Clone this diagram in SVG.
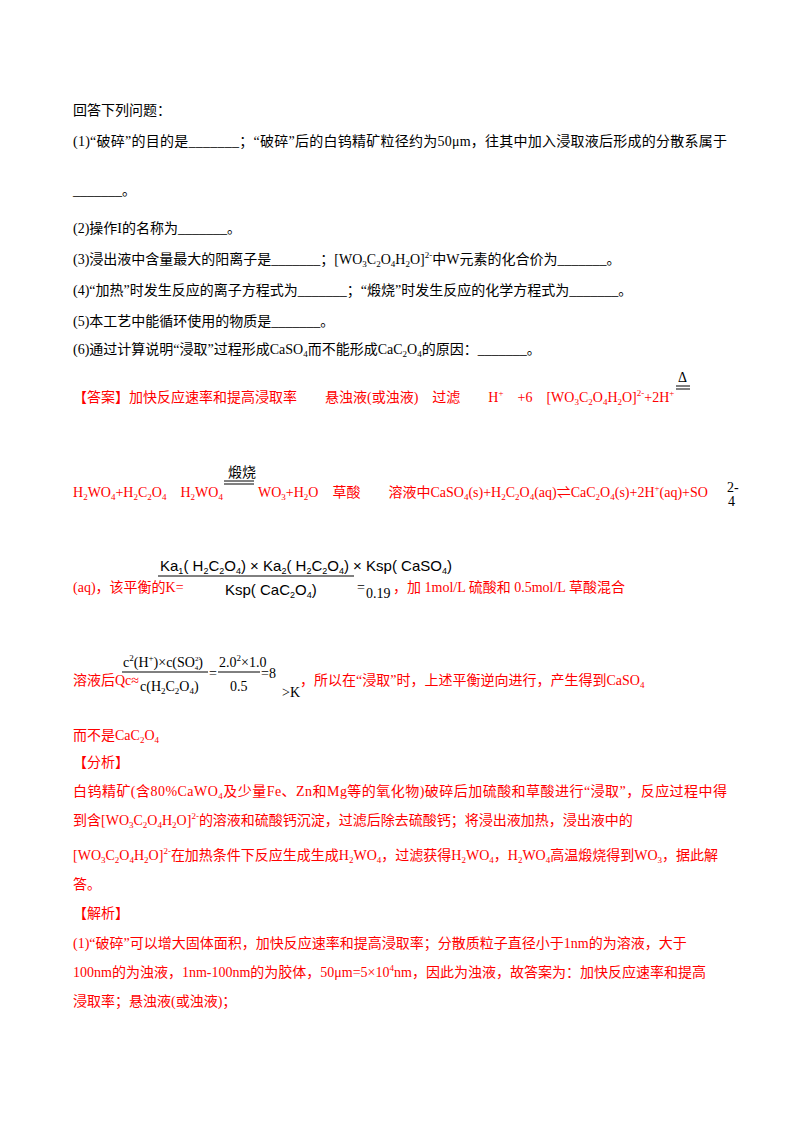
<svg xmlns="http://www.w3.org/2000/svg" width="800" height="1132" viewBox="0 0 800 1132">
<style>
text{font-family:"Liberation Serif","Noto Sans CJK SC",serif;font-size:14px;fill:#000}
.r{fill:#ff0000}
.s{font-size:9px;baseline-shift:-3px}
.p{font-size:9px;baseline-shift:6px}
.k{font-family:"Liberation Sans","Noto Sans CJK SC",sans-serif;font-size:15px;fill:#000}
.ks{font-family:"Liberation Sans",sans-serif;font-size:9px;baseline-shift:-3px}
</style>
<rect width="800" height="1132" fill="#fff"/>
<g id="questions">
<text x="73" y="115">回答下列问题：</text>
<text x="73" y="146" textLength="654" lengthAdjust="spacing">(1)“破碎”的目的是_______；“破碎”后的白钨精矿粒径约为50μm，往其中加入浸取液后形成的分散系属于</text>
<text x="73" y="195">_______。</text>
<text x="73" y="233">(2)操作I的名称为_______。</text>
<text x="73" y="264">(3)浸出液中含量最大的阳离子是_______；[WO<tspan class="s">3</tspan>C<tspan class="s">2</tspan>O<tspan class="s">4</tspan>H<tspan class="s">2</tspan>O]<tspan class="p">2-</tspan>中W元素的化合价为_______。</text>
<text x="73" y="295">(4)“加热”时发生反应的离子方程式为_______；“煅烧”时发生反应的化学方程式为_______。</text>
<text x="73" y="326">(5)本工艺中能循环使用的物质是_______。</text>
<text x="73" y="354">(6)通过计算说明“浸取”过程形成CaSO<tspan class="s">4</tspan>而不能形成CaC<tspan class="s">2</tspan>O<tspan class="s">4</tspan>的原因：_______。</text>
</g>
<g id="answer">
<text class="r" x="73" y="402">【答案】加快反应速率和提高浸取率　　悬浊液(或浊液)　过滤　　H<tspan class="p">+</tspan>　+6　[WO<tspan class="s">3</tspan>C<tspan class="s">2</tspan>O<tspan class="s">4</tspan>H<tspan class="s">2</tspan>O]<tspan class="p">2-</tspan>+2H<tspan class="p">+</tspan></text>
<text x="678" y="382" font-size="15">Δ</text>
<line x1="676" y1="386" x2="690" y2="386" stroke="#000" stroke-width="1"/>
<line x1="676" y1="389" x2="690" y2="389" stroke="#000" stroke-width="1"/>
<text class="r" x="73" y="497">H<tspan class="s">2</tspan>WO<tspan class="s">4</tspan>+H<tspan class="s">2</tspan>C<tspan class="s">2</tspan>O<tspan class="s">4</tspan>　H<tspan class="s">2</tspan>WO<tspan class="s">4</tspan></text>
<text x="228" y="477" font-size="15">煅烧</text>
<line x1="224" y1="481" x2="254" y2="481" stroke="#000"/>
<line x1="224" y1="484" x2="254" y2="484" stroke="#000"/>
<text class="r" x="258" y="497">WO<tspan class="s">3</tspan>+H<tspan class="s">2</tspan>O　草酸　　溶液中CaSO<tspan class="s">4</tspan>(s)+H<tspan class="s">2</tspan>C<tspan class="s">2</tspan>O<tspan class="s">4</tspan>(aq)⇌CaC<tspan class="s">2</tspan>O<tspan class="s">4</tspan>(s)+2H<tspan class="p">+</tspan>(aq)+SO</text>
<text x="727" y="492" font-size="8">2-</text>
<text x="728" y="506" font-size="8">4</text>
<text class="r" x="73" y="592">(aq)，该平衡的K=</text>
<text class="k" x="160" y="571">Ka<tspan class="ks">1</tspan>( H<tspan class="ks">2</tspan>C<tspan class="ks">2</tspan>O<tspan class="ks">4</tspan>) × Ka<tspan class="ks">2</tspan>( H<tspan class="ks">2</tspan>C<tspan class="ks">2</tspan>O<tspan class="ks">4</tspan>) × Ksp( CaSO<tspan class="ks">4</tspan>)</text>
<line x1="158" y1="576" x2="354" y2="576" stroke="#000"/>
<text class="k" x="225" y="595">Ksp( CaC<tspan class="ks">2</tspan>O<tspan class="ks">4</tspan>)</text>
<text x="357" y="592">=</text>
<text x="366" y="598">0.19</text>
<text class="r" x="393" y="592">，加 1mol/L 硫酸和 0.5mol/L 草酸混合</text>
<text class="r" x="73" y="685">溶液后Qc≈</text>
<text x="123" y="667">c<tspan class="p">2</tspan>(H<tspan class="p">+</tspan>)×c(SO<tspan font-size="7" dy="-6">2-</tspan><tspan font-size="7" dx="-6" dy="9">4</tspan><tspan dy="-3">)</tspan></text>
<line x1="122" y1="672" x2="208" y2="672" stroke="#000"/>
<line x1="218" y1="672" x2="260" y2="672" stroke="#000"/>
<text x="140" y="691">c(H<tspan class="s">2</tspan>C<tspan class="s">2</tspan>O<tspan class="s">4</tspan>)</text>
<text x="209" y="678">=</text>
<text x="219" y="667">2.0<tspan class="p">2</tspan>×1.0</text>
<text x="230" y="691">0.5</text>
<text x="261" y="678">=8</text>
<text x="282" y="697">&gt;K</text>
<text class="r" x="300" y="685">，所以在“浸取”时，上述平衡逆向进行，产生得到CaSO<tspan class="s">4</tspan></text>
<text class="r" x="73" y="740">而不是CaC<tspan class="s">2</tspan>O<tspan class="s">4</tspan></text>
</g>
<g id="analysis">
<text class="r" x="73" y="767">【分析】</text>
<text class="r" x="73" y="796" textLength="654" lengthAdjust="spacing">白钨精矿(含80%CaWO<tspan class="s">4</tspan>及少量Fe、Zn和Mg等的氧化物)破碎后加硫酸和草酸进行“浸取”，反应过程中得</text>
<text class="r" x="73" y="825">到含[WO<tspan class="s">3</tspan>C<tspan class="s">2</tspan>O<tspan class="s">4</tspan>H<tspan class="s">2</tspan>O]<tspan class="p">2-</tspan>的溶液和硫酸钙沉淀，过滤后除去硫酸钙；将浸出液加热，浸出液中的</text>
<text class="r" x="73" y="860">[WO<tspan class="s">3</tspan>C<tspan class="s">2</tspan>O<tspan class="s">4</tspan>H<tspan class="s">2</tspan>O]<tspan class="p">2-</tspan>在加热条件下反应生成生成H<tspan class="s">2</tspan>WO<tspan class="s">4</tspan>，过滤获得H<tspan class="s">2</tspan>WO<tspan class="s">4</tspan>，H<tspan class="s">2</tspan>WO<tspan class="s">4</tspan>高温煅烧得到WO<tspan class="s">3</tspan>，据此解</text>
<text class="r" x="73" y="889">答。</text>
<text class="r" x="73" y="918">【解析】</text>
<text class="r" x="73" y="948">(1)“破碎”可以增大固体面积，加快反应速率和提高浸取率；分散质粒子直径小于1nm的为溶液，大于</text>
<text class="r" x="73" y="977">100nm的为浊液，1nm-100nm的为胶体，50μm=5×10<tspan class="p">4</tspan>nm，因此为浊液，故答案为：加快反应速率和提高</text>
<text class="r" x="73" y="1006">浸取率；悬浊液(或浊液)；</text>
</g>
</svg>
